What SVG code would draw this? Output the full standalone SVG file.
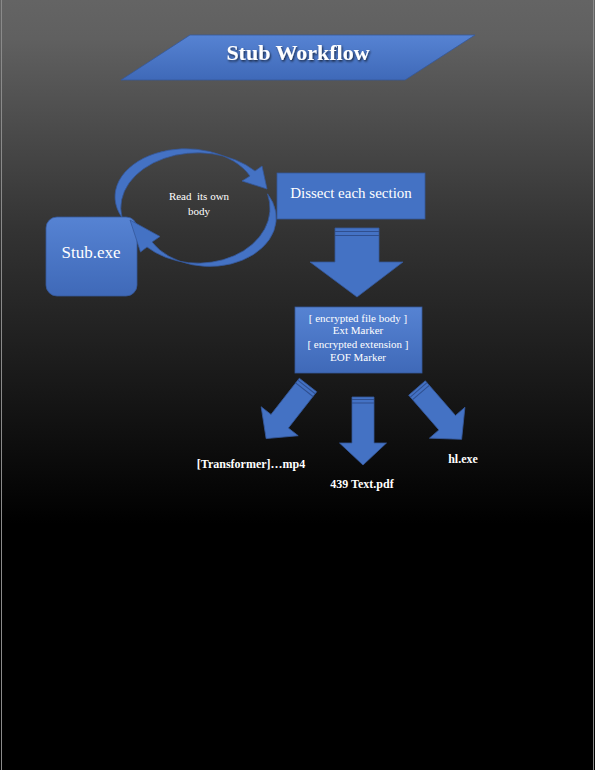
<svg xmlns="http://www.w3.org/2000/svg" width="595" height="770" viewBox="0 0 595 770">
<defs>
<linearGradient id="bg" x1="0" y1="0" x2="0" y2="1">
<stop offset="0" stop-color="#646464"/>
<stop offset="0.05" stop-color="#606060"/>
<stop offset="0.3" stop-color="#333333"/>
<stop offset="0.68" stop-color="#000000"/>
<stop offset="1" stop-color="#000000"/>
</linearGradient>
<linearGradient id="blue" x1="0" y1="0" x2="0" y2="1">
<stop offset="0" stop-color="#5683d3"/>
<stop offset="1" stop-color="#3f69b8"/>
</linearGradient>
<filter id="sh" x="-10%" y="-20%" width="120%" height="140%">
<feDropShadow dx="1" dy="1.5" stdDeviation="1" flood-color="#000" flood-opacity="0.7"/>
</filter>
<path id="arr" d="M -11,0 H 11 V 46 H 23.5 L 0,68 L -23.5,46 H -11 Z"/>
</defs>
<style>
.shape{fill:#4472c4;stroke:#35589a;stroke-width:0.8}
.grad{fill:url(#blue);stroke:#35589a;stroke-width:0.8}
.band{stroke:#2f4f8f;stroke-width:1;fill:none}
.t{font-family:"Liberation Serif","Times New Roman",serif;fill:#ffffff;text-anchor:middle}
.lb{font-family:"Liberation Serif","Times New Roman",serif;fill:#ffffff;font-weight:bold;font-size:12px;text-anchor:middle}
</style>
<rect x="0" y="0" width="595" height="770" fill="url(#bg)"/>
<rect x="1.5" y="-1" width="592" height="772" fill="none" stroke="#8a8a8a" stroke-width="1"/>

<g id="title">
<polygon class="grad" points="190,35 475,35 405,80 121,80"/>
<text class="t" x="298" y="60" font-size="22" font-weight="bold" filter="url(#sh)">Stub Workflow</text>
</g>

<g id="connectors">
<path id="loop-top" class="shape" d="M 122,217.5 A 77 55 0 0 1 255,171 L 262,166 L 267,189 L 242,181 L 250,176 A 68 46 0 0 0 122,217.5 Z"/>
<g id="arrow-down-main">
<path class="shape" d="M 335,228 H 379 V 262 H 403 L 357,297 L 310,262 H 335 Z"/>
<line class="band" x1="335" y1="231.5" x2="379" y2="231.5"/>
<line class="band" x1="335" y1="235.5" x2="379" y2="235.5"/>
</g>
<g id="arrow-left" transform="translate(308,385) rotate(38)">
<use href="#arr" class="shape"/>
<line class="band" x1="-11" y1="2.5" x2="11" y2="2.5"/>
<line class="band" x1="-11" y1="6" x2="11" y2="6"/>
</g>
<g id="arrow-center" transform="translate(363,397)">
<use href="#arr" class="shape"/>
<line class="band" x1="-11" y1="2.5" x2="11" y2="2.5"/>
<line class="band" x1="-11" y1="6" x2="11" y2="6"/>
</g>
<g id="arrow-right" transform="translate(417,388) rotate(-41)">
<use href="#arr" class="shape"/>
<line class="band" x1="-11" y1="2.5" x2="11" y2="2.5"/>
<line class="band" x1="-11" y1="6" x2="11" y2="6"/>
</g>
</g>

<g id="stub">
<rect class="grad" x="46" y="217" width="91" height="79" rx="11"/>
<text class="t" x="91" y="258" font-size="17">Stub.exe</text>
</g>

<path id="loop-bottom" class="shape" d="M 267.5,193.8 A 72 55 0 0 1 147,247 L 140.5,252 L 130,220 L 160,236.5 L 152,242 A 63 46 0 0 0 267.5,193.8 Z"/>

<g id="loop-label">
<text class="t" x="199" y="200" font-size="11" xml:space="preserve">Read  its own</text>
<text class="t" x="199" y="215" font-size="11">body</text>
</g>

<g id="dissect">
<rect class="shape" x="277" y="173" width="148" height="46"/>
<text class="t" x="351" y="198" font-size="15">Dissect each section</text>
</g>

<g id="payload">
<rect class="grad" x="295" y="307" width="127" height="66"/>
<text class="t" x="358" y="322" font-size="11">[ encrypted file body ]</text>
<text class="t" x="358" y="334" font-size="11">Ext Marker</text>
<text class="t" x="358" y="348" font-size="11">[ encrypted extension ]</text>
<text class="t" x="358" y="361" font-size="11">EOF Marker</text>
</g>

<g id="out-mp4"><text class="lb" x="251" y="468">[Transformer]…mp4</text></g>
<g id="out-pdf"><text class="lb" x="362" y="488">439 Text.pdf</text></g>
<g id="out-exe"><text class="lb" x="463" y="463">hl.exe</text></g>
</svg>
